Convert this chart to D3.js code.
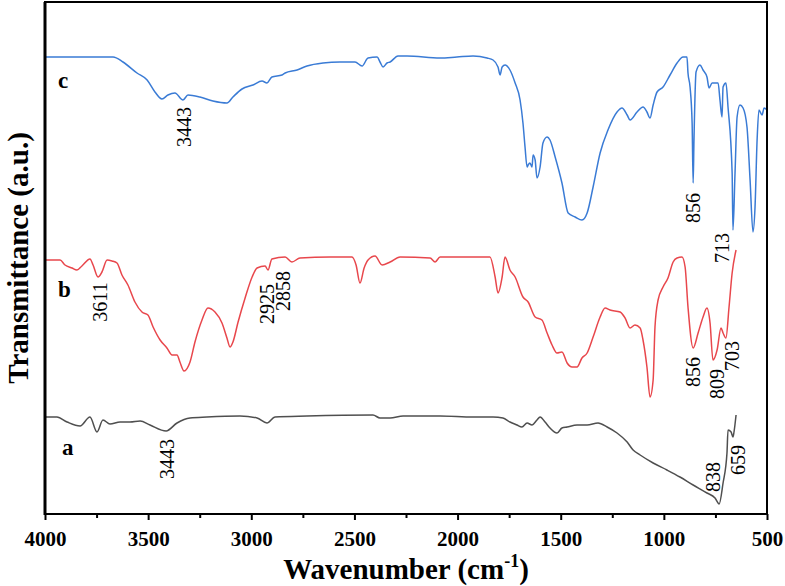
<!DOCTYPE html>
<html>
<head>
<meta charset="utf-8">
<script src="https://cdn.jsdelivr.net/npm/d3@7"></script>
<style>
    body { margin: 0; background: #fff; }
    text { font-family: "Liberation Serif", "Times New Roman", serif; }
</style>
</head>
<body>
<div id="ftir-chart"></div>
<script>
// FTIR spectra a, b, c (wavenumber in cm-1, transmittance in a.u.)

// ---- spectrum c (blue, top) ----
const waveC = [4000,3670,3622,3554,3505,3467,3433,3404,3370,3331,3307,3249,3186,3118,3089,3045,2992,2948,2924,2900,2851,2836,2778,2730,2652,2570,2497,2463,2434,2390,2376,2361,2342,2327,2289,2245,2085,2003,1925,1857,1828,1804,1794,1784,1770,1746,1721,1697,1683,1673,1663,1658,1649,1639,1634,1624,1615,1600,1586,1566,1552,1527,1494,1464,1430,1397,1372,1343,1309,1271,1227,1203,1178,1164,1130,1101,1082,1067,1052,1033,1004,970,936,907,888,883,873,863,858,854,844,825,810,791,781,766,737,728,718,713,699,689,669,665,655,645,631,616,597,582,568,558,548,539,524,514,500];
const transC = [91.4,91.4,90.4,88.2,86.8,84.4,83.0,83.8,84.2,82.8,83.8,83.4,82.6,82.2,83.4,85.0,85.8,86.6,86.2,87.4,87.8,88.2,88.8,89.6,90.2,90.4,90.4,89.6,91.2,91.4,90.4,89.4,90.2,90.4,91.6,91.6,91.2,91.4,91.6,91.2,90.8,89.4,87.8,89.4,89.8,88.8,86.2,82.8,78.2,73.4,69.4,69.8,70.2,69.4,71.8,70.8,67.2,69.4,74.2,75.4,74.8,71.4,66.2,60.2,59.4,58.8,60.2,65.4,72.2,76.8,80.4,81.2,79.8,78.8,80.4,81.4,80.4,79.2,81.8,84.4,85.4,87.8,90.2,91.4,91.4,88.2,85.4,78.2,66.2,74.8,88.4,89.8,88.8,87.4,85.2,86.2,86.2,82.8,79.4,85.4,86.2,81.4,68.2,56.8,68.2,79.4,81.8,81.2,77.4,66.8,56.4,61.4,74.8,80.8,79.8,81.2,80.8];

// ---- spectrum b (red, middle) ----
const waveB = [4000,3961,3927,3903,3869,3845,3821,3782,3767,3743,3724,3699,3675,3651,3627,3598,3564,3530,3501,3476,3442,3409,3384,3360,3346,3326,3297,3273,3239,3210,3176,3142,3118,3103,3089,3064,3030,2996,2972,2933,2919,2900,2836,2803,2764,2618,2512,2492,2473,2453,2434,2400,2366,2327,2279,2133,2109,2085,1843,1818,1804,1784,1770,1746,1721,1683,1658,1624,1591,1566,1542,1518,1494,1469,1445,1421,1397,1372,1343,1309,1285,1261,1212,1188,1164,1140,1115,1101,1082,1067,1052,1043,1028,1004,980,955,936,912,897,883,858,834,810,791,776,762,742,723,713,699,684,669,650];
const transB = [50.8,50.8,50.8,49.8,49.2,48.8,49.6,51.0,49.8,47.4,48.4,50.8,50.6,50.2,47.8,45.8,42.4,40.4,39.8,37.4,34.8,33.2,31.8,31.8,30.4,28.6,30.4,34.4,38.8,41.2,40.4,38.2,35.2,33.4,34.4,38.4,43.2,47.4,49.2,49.6,48.8,51.0,51.4,50.4,51.2,51.4,51.4,49.8,46.2,49.2,50.8,51.6,49.8,50.4,51.4,51.2,50.4,51.4,51.4,47.4,44.2,47.4,51.4,48.8,47.4,43.4,42.4,39.4,38.8,36.2,33.8,32.2,32.4,30.2,29.4,29.4,31.2,32.2,35.4,39.4,41.2,40.8,40.4,39.2,37.2,37.8,37.2,34.8,29.4,23.4,26.8,37.4,42.8,45.4,47.2,50.4,51.2,51.4,49.4,41.4,33.2,36.2,39.4,41.2,38.2,30.8,32.8,37.2,36.2,35.2,41.4,48.2,52.8];

// ---- spectrum a (grey, bottom) ----
const waveA = [4000,3942,3893,3830,3782,3748,3719,3685,3636,3588,3539,3491,3413,3360,3297,3215,3055,2972,2924,2885,2730,2410,2376,2327,2264,2085,1925,1828,1780,1746,1712,1688,1663,1639,1615,1600,1576,1552,1518,1494,1469,1421,1372,1319,1275,1227,1178,1149,1115,1052,985,922,858,791,752,732,713,694,689,674,665,660,650];
const transA = [19.4,19.4,18.4,17.6,19.4,16.4,18.8,18.0,18.4,18.4,18.6,17.8,16.6,18.2,19.2,19.4,19.6,19.2,18.2,19.4,19.6,19.8,19.2,19.2,19.6,19.6,19.4,19.4,19.2,18.4,17.8,17.4,18.2,17.8,18.8,19.4,18.4,17.2,16.2,17.2,17.4,17.8,17.8,18.2,17.4,16.2,14.4,12.8,11.8,10.2,8.8,7.4,5.8,4.2,3.2,2.0,6.2,12.2,16.8,16.4,15.4,16.4,19.8];

// axis ticks
const majorTicks = [4000, 3500, 3000, 2500, 2000, 1500, 1000, 500];
const minorTicks = [3750, 3250, 2750, 2250, 1750, 1250, 750];

// peak annotations: text, wavenumber, transmittance
const peakText = ["3443", "856", "713", "3611", "2925", "2858", "856", "809", "703", "3443", "838", "659"];
const peakWave = [3326, 858, 718, 3733, 2924, 2846, 858, 742, 669, 3409, 762, 640];
const peakTrans = [77.4, 61.2, 53.2, 42.4, 42.0, 44.6, 28.4, 26.0, 31.6, 11.0, 7.4, 10.8];

// curve letters: text, wavenumber, transmittance (baseline)
const curveLetter = ["c", "b", "a"];
const letterWave = [3937, 3937, 3918];
const letterTrans = [85.2, 43.4, 11.8];

drawChart();

function drawChart(){
    let width = 785, height = 586;
    let margin = {top: 2, right: 18, bottom: 72, left: 45};

    let svg = d3.select('#ftir-chart').append('svg')
                .attr('width', width)
                .attr('height', height);

    // scales (wavenumber axis is reversed)
    let x = d3.scaleLinear()
                .domain([4000, 500])
                .range([margin.left, width - margin.right]);
    let y = d3.scaleLinear()
                .domain([0, 102.4])
                .range([height - margin.bottom, margin.top]);

    let line = d3.line()
                .x(function(d){ return x(d[0]); })
                .y(function(d){ return y(d[1]); })
                .curve(d3.curveMonotoneX);

    // spectra
    let spectra = [
        {wave: waveA, trans: transA, color: '#4f4f4f'},
        {wave: waveB, trans: transB, color: '#e8474c'},
        {wave: waveC, trans: transC, color: '#3a7bd5'}
    ];
    svg.append('g')
        .selectAll('path')
        .data(spectra)
      .enter().append('path')
        .attr('fill', 'none')
        .attr('stroke', function(d){ return d.color; })
        .attr('stroke-width', 1.5)
        .attr('stroke-linejoin', 'round')
        .attr('d', function(d){ return line(d3.zip(d.wave, d.trans)); });

    // minor ticks
    svg.append('g')
        .attr('transform', 'translate(0,' + y(0) + ')')
        .call(d3.axisBottom(x).tickValues(minorTicks).tickSize(4).tickFormat(''))
        .call(function(g){ g.select('.domain').remove(); })
        .selectAll('line').attr('stroke-width', 2);

    // major ticks with labels
    let xAxis = svg.append('g')
        .attr('transform', 'translate(0,' + y(0) + ')')
        .call(d3.axisBottom(x).tickValues(majorTicks).tickSize(6).tickPadding(11).tickFormat(d3.format('d')));
    xAxis.select('.domain').remove();
    xAxis.selectAll('line').attr('stroke-width', 2);
    xAxis.selectAll('text')
        .attr('font-weight', 'bold')
        .attr('font-size', 21)
        .attr('fill', '#000');

    // frame
    svg.append('rect')
        .attr('x', x(4000))
        .attr('y', y(102.4))
        .attr('width', x(500) - x(4000))
        .attr('height', y(0) - y(102.4))
        .attr('fill', 'none')
        .attr('stroke', '#000')
        .attr('stroke-width', 2);
    svg.append('line')
        .attr('x1', x(4000)).attr('x2', x(4000))
        .attr('y1', y(102.4)).attr('y2', y(0) + 1)
        .attr('stroke', '#000')
        .attr('stroke-width', 3);

    // peak labels (rotated)
    svg.append('g')
        .selectAll('text')
        .data(d3.range(peakText.length))
      .enter().append('text')
        .attr('transform', function(i){ return 'translate(' + x(peakWave[i]) + ',' + y(peakTrans[i]) + ') rotate(-90)'; })
        .attr('text-anchor', 'middle')
        .attr('dominant-baseline', 'central')
        .attr('font-size', 20)
        .attr('fill', '#000')
        .text(function(i){ return peakText[i]; });

    // curve letters
    svg.append('g')
        .selectAll('text')
        .data(d3.range(curveLetter.length))
      .enter().append('text')
        .attr('x', function(i){ return x(letterWave[i]); })
        .attr('y', function(i){ return y(letterTrans[i]); })
        .attr('font-size', 23)
        .attr('font-weight', 'bold')
        .attr('fill', '#000')
        .text(function(i){ return curveLetter[i]; });

    // axis titles
    let xTitle = svg.append('text')
        .attr('x', (x(4000) + x(500)) / 2)
        .attr('y', 579)
        .attr('text-anchor', 'middle')
        .attr('font-size', 29)
        .attr('font-weight', 'bold')
        .attr('fill', '#000');
    xTitle.append('tspan').text('Wavenumber (cm');
    xTitle.append('tspan').attr('font-size', 18).attr('dy', -12).text('-1');
    xTitle.append('tspan').attr('dy', 12).text(')');

    svg.append('text')
        .attr('transform', 'translate(28,' + (y(0) + y(102.4)) / 2 + ') rotate(-90)')
        .attr('text-anchor', 'middle')
        .attr('font-size', 29)
        .attr('font-weight', 'bold')
        .attr('fill', '#000')
        .text('Transmittance (a.u.)');
}
</script>
</body>
</html>
